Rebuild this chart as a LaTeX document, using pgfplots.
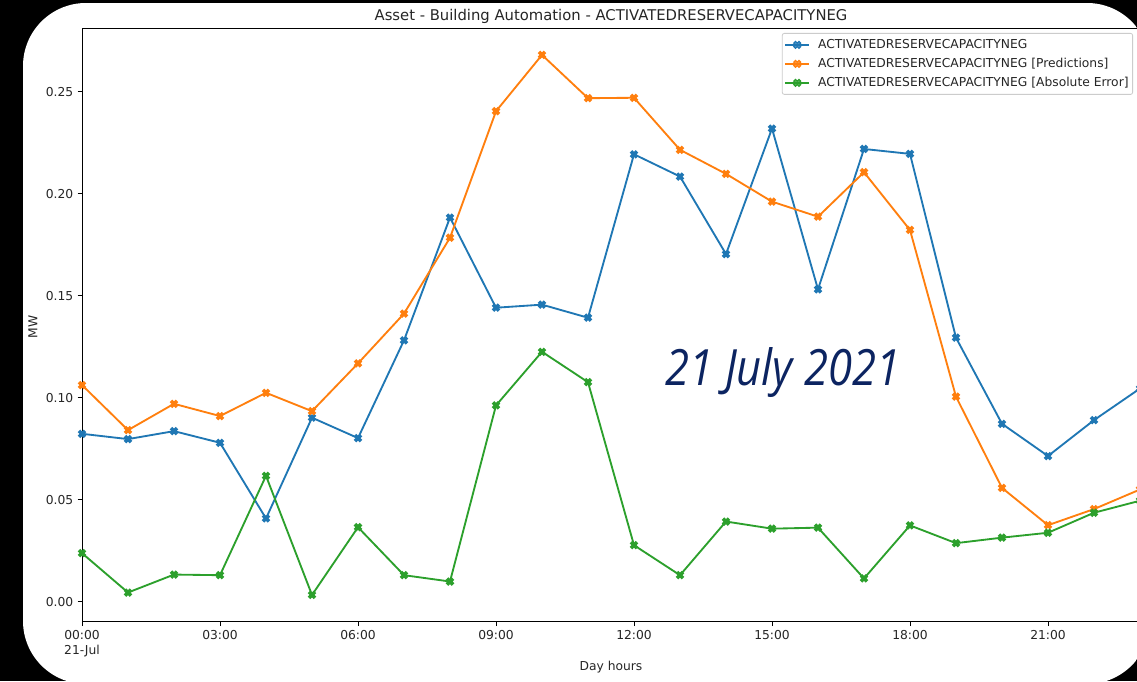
\documentclass[border=0pt]{standalone}
\usepackage{fontspec}
\setmainfont{DejaVu Sans}
\newfontfamily\annofont{Open Sans}
\usepackage{pgfplots}
\usepackage{pgfplotstable}
\pgfplotsset{compat=1.18}

\definecolor{mplblue}{HTML}{1F77B4}
\definecolor{mplorange}{HTML}{FF7F0E}
\definecolor{mplgreen}{HTML}{2CA02C}
\definecolor{datenavy}{RGB}{12,36,97}

% filled "X" marker (a plus rotated by 45 degrees)
\pgfdeclareplotmark{Xfill}{%
  \pgftransformrotate{45}%
  \pgfpathmoveto{\pgfpoint{-\pgfplotmarksize}{-3\pgfplotmarksize}}%
  \pgfpathlineto{\pgfpoint{\pgfplotmarksize}{-3\pgfplotmarksize}}%
  \pgfpathlineto{\pgfpoint{\pgfplotmarksize}{-\pgfplotmarksize}}%
  \pgfpathlineto{\pgfpoint{3\pgfplotmarksize}{-\pgfplotmarksize}}%
  \pgfpathlineto{\pgfpoint{3\pgfplotmarksize}{\pgfplotmarksize}}%
  \pgfpathlineto{\pgfpoint{\pgfplotmarksize}{\pgfplotmarksize}}%
  \pgfpathlineto{\pgfpoint{\pgfplotmarksize}{3\pgfplotmarksize}}%
  \pgfpathlineto{\pgfpoint{-\pgfplotmarksize}{3\pgfplotmarksize}}%
  \pgfpathlineto{\pgfpoint{-\pgfplotmarksize}{\pgfplotmarksize}}%
  \pgfpathlineto{\pgfpoint{-3\pgfplotmarksize}{\pgfplotmarksize}}%
  \pgfpathlineto{\pgfpoint{-3\pgfplotmarksize}{-\pgfplotmarksize}}%
  \pgfpathlineto{\pgfpoint{-\pgfplotmarksize}{-\pgfplotmarksize}}%
  \pgfpathclose
  \pgfusepathqfillstroke
}

% hourly values in MW, 21 July 2021
\pgfplotstableread{
h  actual  pred    err
0  0.0824  0.1063  0.0239
1  0.0798  0.0842  0.0046
2  0.0837  0.0971  0.0134
3  0.0780  0.0911  0.0131
4  0.0409  0.1025  0.0618
5  0.0903  0.0935  0.0034
6  0.0803  0.1169  0.0366
7  0.1282  0.1413  0.0131
8  0.1884  0.1785  0.0100
9  0.1442  0.2405  0.0963
10 0.1457  0.2681  0.1226
11 0.1393  0.2469  0.1077
12 0.2194  0.2471  0.0278
13 0.2085  0.2216  0.0131
14 0.1705  0.2098  0.0394
15 0.2320  0.1962  0.0359
16 0.1532  0.1888  0.0364
17 0.2220  0.2106  0.0115
18 0.2196  0.1823  0.0375
19 0.1295  0.1006  0.0288
20 0.0873  0.0559  0.0315
21 0.0715  0.0376  0.0339
22 0.0891  0.0455  0.0437
23 0.1046  0.0551  0.0496
}\hourly

\newcommand{\tickfont}{\fontsize{12.3}{15}\selectfont}

\begin{document}
\begin{tikzpicture}[x=1pt,y=1pt]
\useasboundingbox (0,0) rectangle (1137,681);
\fill[black] (0,0) rectangle (1137,681);
\begin{scope}
\clip[rounded corners=63pt] (23,-3) rectangle (1150,678);
\fill[white] (23,-3) rectangle (1150,678);
\begin{axis}[
  at={(82pt,59.3pt)}, anchor=south west,
  width=1058pt, height=593.7pt, scale only axis,
  xmin=0, xmax=23, ymin=-0.0097, ymax=0.2813,
  axis line style={black, line width=0.9pt},
  tick align=outside, major tick length=4.3pt,
  tick style={black, line width=0.9pt},
  xtick pos=bottom, ytick pos=left,
  xtick={0,3,...,21},
  xticklabels={{00:00\\21-Jul},03:00,06:00,09:00,12:00,15:00,18:00,21:00},
  ytick={0,0.05,0.1,0.15,0.2,0.25},
  /pgf/number format/.cd, fixed, fixed zerofill, precision=2, assume math mode=true,
  /pgfplots/.cd,
  scaled y ticks=false,
  tick label style={font=\tickfont, text=black!85},
  xticklabel style={align=center, inner sep=0pt, anchor=north, yshift=-3.7pt},
  yticklabel style={inner sep=0pt, anchor=east, xshift=-4.3pt},
  legend cell align=left,
  legend style={at={(0.9934,0.9916)}, anchor=north east,
    draw=black!20, line width=0.8pt, rounded corners=2pt,
    fill=white, fill opacity=0.8, text opacity=1,
    font=\fontsize{12.3}{14}\selectfont, text=black!85,
    inner xsep=2pt, inner ysep=2pt,
    nodes={text height=9.5pt, text depth=2.5pt, inner ysep=3.5pt},
    /tikz/every odd column/.append style={column sep=6pt}},
  legend image code/.code={%
    \draw[mark repeat=2, mark phase=2, #1] plot coordinates {(0pt,0pt) (12pt,0pt) (24pt,0pt)};},
  every axis plot/.append style={line width=1.85pt, mark=Xfill, mark size=1.23pt,
    mark options={solid, line width=1.1pt}},
]
\addplot[color=mplblue] table[x=h, y=actual] {\hourly};
\addlegendentry{ACTIVATEDRESERVECAPACITYNEG}
\addplot[color=mplorange] table[x=h, y=pred] {\hourly};
\addlegendentry{ACTIVATEDRESERVECAPACITYNEG [Predictions]}
\addplot[color=mplgreen] table[x=h, y=err] {\hourly};
\addlegendentry{ACTIVATEDRESERVECAPACITYNEG [Absolute Error]}
\end{axis}
% title and axis labels
\node[font=\fontsize{14.8}{17}\selectfont, text=black!85, anchor=base, inner sep=0pt] at (611,660) {Asset - Building Automation - ACTIVATEDRESERVECAPACITYNEG};
\node[font=\tickfont, text=black!85, anchor=base] at (611,11) {Day hours};
\node[font=\tickfont, text=black!85, rotate=90] at (33,354) {MW};
% date annotation
\node[font=\annofont\itshape\fontsize{50}{56}\selectfont, text=datenavy, anchor=base, xscale=0.87, inner sep=0pt] at (783,296) {21 July 2021};
\end{scope}
\end{tikzpicture}
\end{document}
